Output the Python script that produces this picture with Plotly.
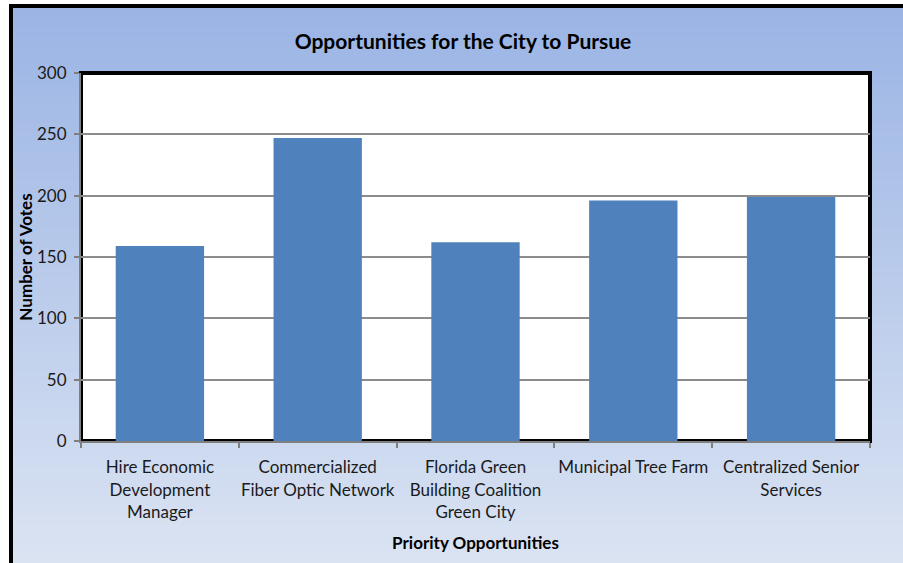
import plotly.graph_objects as go

# chart data
categories = [
    "Hire Economic<br>Development<br>Manager",
    "Commercialized<br>Fiber Optic Network",
    "Florida Green<br>Building Coalition<br>Green City",
    "Municipal Tree Farm",
    "Centralized Senior<br>Services",
]
votes = [159, 247, 162, 196, 199]
y_ticks = [0, 50, 100, 150, 200, 250, 300]

W, H = 903, 563
L, R, T, B = 81, 33, 73, 122
plot_w = W - L - R
plot_h = H - T - B
FONT = "Lato, Calibri, sans-serif"


def px(x):
    # pixel x -> paper coords
    return (x - L) / plot_w


def py(y):
    # pixel y (from top) -> paper coords
    return (H - B - y) / plot_h


def mix(c1, c2, t):
    return "rgb(%d,%d,%d)" % tuple(round(a + (b - a) * t) for a, b in zip(c1, c2))


shapes = []

# outer black frame of the chart box
shapes.append(dict(type="rect", xref="paper", yref="paper", layer="below",
                   x0=px(9), x1=px(W + 20), y0=py(H + 20), y1=py(4),
                   fillcolor="black", line=dict(width=0)))

# vertical gradient fill of the chart box
top_c, bot_c = (154, 180, 228), (221, 229, 243)
n = 60
y_start, y_end = 8, H + 20
for i in range(n):
    ya = y_start + (y_end - y_start) * i / n
    yb = y_start + (y_end - y_start) * (i + 1) / n
    shapes.append(dict(type="rect", xref="paper", yref="paper", layer="below",
                       x0=px(13), x1=px(W + 20), y0=py(yb + 1), y1=py(ya),
                       fillcolor=mix(top_c, bot_c, (i + 0.5) / n),
                       line=dict(width=0)))

# white plot area with heavy black border
shapes.append(dict(type="rect", xref="x domain", yref="y domain", layer="below",
                   x0=0, x1=1, y0=0, y1=1, fillcolor="white",
                   line=dict(color="black", width=4)))

fig = go.Figure()
fig.add_trace(go.Bar(
    x=categories,
    y=votes,
    marker=dict(color="#4F81BD", line=dict(width=0)),
    width=0.56,
    hoverinfo="x+y",
))

fig.update_layout(
    width=W,
    height=H,
    margin=dict(l=L, r=R, t=T, b=B, autoexpand=False),
    paper_bgcolor="white",
    plot_bgcolor="rgba(0,0,0,0)",
    shapes=shapes,
    showlegend=False,
    font=dict(family=FONT, size=17, color="#1a1a1a"),
    title=dict(
        text="<b>Opportunities for the City to Pursue</b>",
        x=463 / W,
        xanchor="center",
        y=1 - 42 / H,
        yanchor="middle",
        font=dict(family=FONT, size=21, color="black"),
    ),
)

fig.update_xaxes(
    showline=True,
    linecolor="#7f7f7f",
    linewidth=2,
    ticks="outside",
    tickson="boundaries",
    ticklen=5,
    tickcolor="#7f7f7f",
    tickwidth=2,
    showgrid=False,
    tickangle=0,
    ticklabelstandoff=10,
    tickfont=dict(family=FONT, size=17, color="#1a1a1a"),
    title=dict(text="<b>Priority Opportunities</b>",
               font=dict(family=FONT, size=17, color="black"),
               standoff=17),
)

fig.update_yaxes(
    range=[0, 300],
    tickvals=y_ticks,
    showline=True,
    linecolor="#7f7f7f",
    linewidth=2,
    ticks="outside",
    ticklen=5,
    tickcolor="#7f7f7f",
    tickwidth=2,
    showgrid=True,
    gridcolor="#8c8c8c",
    gridwidth=2,
    zeroline=False,
    ticklabelstandoff=4,
    tickfont=dict(family=FONT, size=17, color="#1a1a1a"),
    title=dict(text="<b>Number of Votes</b>",
               font=dict(family=FONT, size=17, color="black"),
               standoff=0),
)

# drop the default page margin so the figure sits at the window's corner
fig.write_html("out.html",
               config={"displayModeBar": False},
               post_script="document.body.style.margin='0';"
                           "document.body.style.overflow='hidden';")
